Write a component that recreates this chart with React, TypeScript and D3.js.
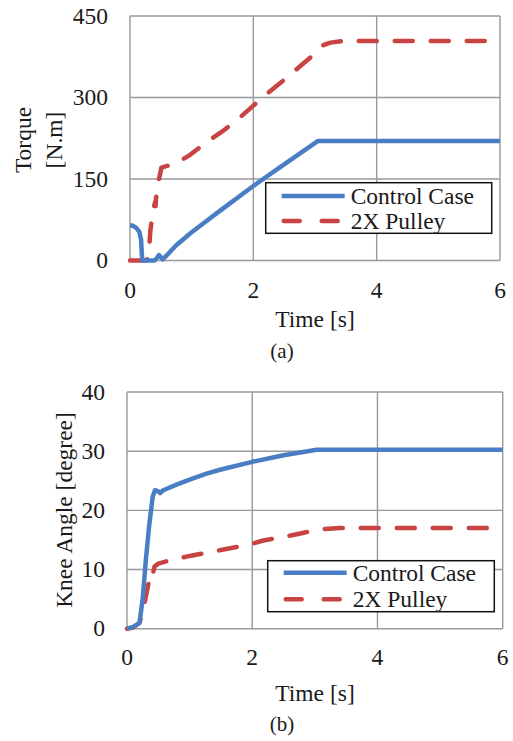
import React from "react";
import * as d3 from "d3";

// ---- Data: (a) Torque ----
const torqueControlT = [0, 0.05, 0.1, 0.15, 0.18, 0.19, 0.2, 0.4, 0.44, 0.47, 0.5, 0.53, 0.6, 0.75, 1.0, 1.5, 2.0, 2.16, 2.5, 3.05, 6];
const torqueControlV = [65, 64, 60, 53, 38, 15, 0, 0, 5, 10, 6, 2, 10, 28, 52, 95, 137, 150, 177, 220, 220];
const torquePulleyT = [0, 0.27, 0.29, 0.31, 0.33, 0.36, 0.39, 0.41, 0.415, 0.42, 0.44, 0.47, 0.51, 0.6, 0.73, 0.97, 1.22, 1.49, 1.73, 1.95, 2.19, 2.43, 2.68, 2.92, 3.05, 3.13, 3.25, 3.45, 6];
const torquePulleyV = [0, 0, 5, 20, 55, 80, 100, 108, 100, 112, 132, 150, 171, 174, 178, 194, 216, 237, 258, 280, 304, 326, 350, 373, 388, 396, 401, 404, 404];

// ---- Data: (b) Knee angle ----
const kneeControlT = [0, 0.1, 0.2, 0.25, 0.3, 0.35, 0.41, 0.447, 0.5, 0.53, 0.58, 0.8, 1.0, 1.27, 1.5, 2.0, 2.5, 3.03, 6];
const kneeControlV = [0, 0.3, 1, 5, 11.5, 17, 22.3, 23.4, 23.2, 22.9, 23.4, 24.4, 25.2, 26.2, 26.9, 28.2, 29.3, 30.25, 30.25];
const kneePulleyT = [0, 0.1, 0.2, 0.24, 0.28, 0.34, 0.39, 0.41, 0.42, 0.44, 0.5, 0.7, 1.0, 1.5, 1.91, 2.18, 2.5, 2.77, 3.08, 3.4, 6];
const kneePulleyV = [0, 0.2, 1, 2.5, 4.3, 7.5, 9.3, 10, 9.6, 10.5, 11, 11.6, 12.3, 13.3, 14.1, 14.9, 15.5, 16.1, 16.8, 17, 17];

const xTicks = [0, 2, 4, 6];
const torqueTicks = [0, 150, 300, 450];
const kneeTicks = [0, 10, 20, 30, 40];
const seriesNames = ["Control Case", "2X Pulley"];

const BLUE = "#4A7EC4";
const RED = "#C84442";
const GRID = "#999999";
const TEXT = "#1a1a1a";
const FONT = "'Liberation Serif', 'Times New Roman', serif";

type PanelProps = {
  x0: number; x1: number; yTop: number; yBot: number;
  yMax: number; yTicks: number[];
  control: [number[], number[]]; pulley: [number[], number[]];
  yLabelLines: { text: string; x: number }[];
  yLabelCenter: number;
  xTickBaseline: number; xTitleBaseline: number; captionBaseline: number; caption: string;
  legend: { x0: number; x1: number; y0: number; y1: number; l1: number; l2: number };
};

function Panel(p: PanelProps) {
  const x = d3.scaleLinear().domain([0, 6]).range([p.x0, p.x1]);
  const y = d3.scaleLinear().domain([0, p.yMax]).range([p.yBot, p.yTop]);
  const line = d3.line<[number, number]>().x((d) => x(d[0])).y((d) => y(d[1]));
  const ctrl = p.control[0].map((t, i) => [t, p.control[1][i]] as [number, number]);
  const pul = p.pulley[0].map((t, i) => [t, p.pulley[1][i]] as [number, number]);
  const lg = p.legend;
  return (
    <g>
      {p.yTicks.map((v) => (
        <line key={"gy" + v} x1={p.x0} x2={p.x1} y1={y(v)} y2={y(v)} stroke={GRID} strokeWidth={1.4} />
      ))}
      {xTicks.map((v) => (
        <line key={"gx" + v} x1={x(v)} x2={x(v)} y1={p.yTop} y2={p.yBot} stroke={GRID} strokeWidth={1.4} />
      ))}
      <path d={line(pul) || ""} fill="none" stroke={RED} strokeWidth={4.5} strokeDasharray="18 18" strokeLinecap="round" strokeLinejoin="round" />
      <path d={line(ctrl) || ""} fill="none" stroke={BLUE} strokeWidth={4.5} strokeLinejoin="round" />
      {p.yTicks.map((v) => (
        <text key={"ty" + v} x={p.x0 - 22} y={y(v) + 7.5} textAnchor="end" fontSize={23.5} fill={TEXT} fontFamily={FONT}>{v}</text>
      ))}
      {xTicks.map((v) => (
        <text key={"tx" + v} x={x(v)} y={p.xTickBaseline} textAnchor="middle" fontSize={23.5} fill={TEXT} fontFamily={FONT}>{v}</text>
      ))}
      <text x={315} y={p.xTitleBaseline} textAnchor="middle" fontSize={23.5} fill={TEXT} fontFamily={FONT}>Time [s]</text>
      <text x={282} y={p.captionBaseline} textAnchor="middle" fontSize={21} fill={TEXT} fontFamily={FONT}>{p.caption}</text>
      {p.yLabelLines.map((l, i) => (
        <text key={"yl" + i} transform={`translate(${l.x},${p.yLabelCenter}) rotate(-90)`} textAnchor="middle" fontSize={23.5} fill={TEXT} fontFamily={FONT}>{l.text}</text>
      ))}
      <rect x={lg.x0} y={lg.y0} width={lg.x1 - lg.x0} height={lg.y1 - lg.y0} fill="#fff" stroke="#111" strokeWidth={1.5} />
      <line x1={lg.x0 + 16} x2={lg.x0 + 79} y1={lg.l1} y2={lg.l1} stroke={BLUE} strokeWidth={4.5} />
      <line x1={lg.x0 + 18} x2={lg.x0 + 79} y1={lg.l2} y2={lg.l2} stroke={RED} strokeWidth={4.5} strokeDasharray="16 22" strokeLinecap="round" />
      <text x={lg.x0 + 85} y={lg.l1 + 8} fontSize={23.5} fill={TEXT} fontFamily={FONT}>{seriesNames[0]}</text>
      <text x={lg.x0 + 85} y={lg.l2 + 8} fontSize={23.5} fill={TEXT} fontFamily={FONT}>{seriesNames[1]}</text>
    </g>
  );
}

export default function App() {
  return (
    <svg width={513} height={741} style={{ position: "absolute", left: 0, top: 0, background: "#fff" }}>
      <Panel
        x0={130} x1={500} yTop={16} yBot={260.5} yMax={450} yTicks={torqueTicks}
        control={[torqueControlT, torqueControlV]} pulley={[torquePulleyT, torquePulleyV]}
        yLabelLines={[{ text: "Torque", x: 31 }, { text: "[N.m]", x: 62 }]} yLabelCenter={140}
        xTickBaseline={297.5} xTitleBaseline={327} captionBaseline={358} caption="(a)"
        legend={{ x0: 265.7, x1: 491.7, y0: 182.7, y1: 233.3, l1: 196, l2: 221 }}
      />
      <Panel
        x0={127} x1={502.7} yTop={392} yBot={628.7} yMax={40} yTicks={kneeTicks}
        control={[kneeControlT, kneeControlV]} pulley={[kneePulleyT, kneePulleyV]}
        yLabelLines={[{ text: "Knee Angle [degree]", x: 72 }]} yLabelCenter={510}
        xTickBaseline={665} xTitleBaseline={701} captionBaseline={731} caption="(b)"
        legend={{ x0: 267.7, x1: 494.3, y0: 560.7, y1: 611.7, l1: 572.7, l2: 599.3 }}
      />
    </svg>
  );
}
